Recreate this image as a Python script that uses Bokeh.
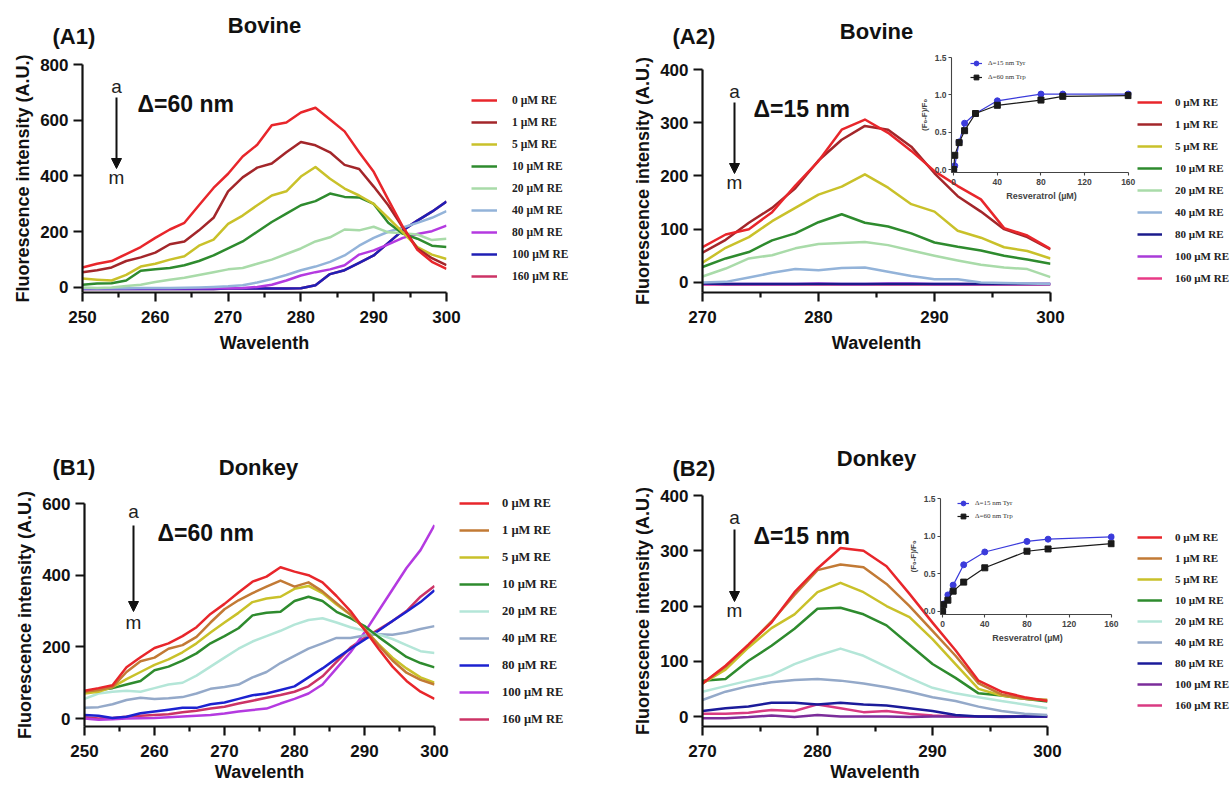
from bokeh.plotting import figure
from bokeh.models import (Range1d, FixedTicker, Label, Arrow, NormalHead, Legend,
                          LegendItem, PrintfTickFormatter)
from bokeh.embed import file_html
from bokeh.resources import INLINE

SANS = "Liberation Sans"
SERIF = "Liberation Serif"

# ---------------- data ----------------
CONC_LABELS = ["0 µM RE", "1 µM RE", "5 µM RE", "10 µM RE", "20 µM RE",
               "40 µM RE", "80 µM RE", "100 µM RE", "160 µM RE"]

WL_60 = [250, 252, 254, 256, 258, 260, 262, 264, 266, 268, 270, 272, 274,
         276, 278, 280, 282, 284, 286, 288, 290, 292, 294, 296, 298, 300]
WL_15 = [270, 272, 274, 276, 278, 280, 282, 284, 286, 288, 290, 292, 294,
         296, 298, 300]

# (A1) Bovine, delta = 60 nm
A1_0 = [72, 85, 95, 120, 145, 178, 208, 232, 295, 357, 408, 470, 512, 582, 592, 628, 645, 603, 560, 485, 415, 315, 218, 135, 92, 67]
A1_1 = [55, 62, 72, 95, 108, 125, 155, 165, 205, 250, 345, 395, 430, 445, 485, 522, 510, 485, 440, 425, 362, 295, 215, 140, 105, 80]
A1_5 = [32, 28, 25, 45, 75, 85, 100, 112, 150, 172, 228, 258, 295, 330, 345, 398, 432, 390, 355, 330, 300, 250, 198, 145, 118, 102]
A1_10 = [10, 14, 15, 25, 60, 65, 70, 80, 95, 115, 140, 165, 200, 235, 265, 295, 310, 337, 325, 323, 300, 232, 193, 175, 150, 145]
A1_20 = [0, -2, 0, 5, 10, 20, 28, 35, 45, 55, 65, 70, 85, 100, 120, 140, 165, 180, 208, 205, 218, 198, 195, 190, 170, 175]
A1_40 = [-3, -3, -3, -3, -2, -2, -2, -1, 0, 2, 4, 8, 18, 30, 45, 62, 75, 92, 115, 150, 178, 200, 215, 232, 250, 274]
A1_80 = [-3, -3, -3, -3, -3, -3, -3, -3, -3, -3, -3, -2, 2, 10, 25, 43, 55, 65, 80, 118, 133, 155, 178, 192, 202, 222]
A1_100 = [-5, -5, -5, -5, -5, -5, -5, -5, -5, -5, -4, -4, -4, -4, -4, -3, 8, 48, 62, 88, 115, 160, 205, 240, 272, 308]
A1_160 = [-5, -5, -5, -5, -5, -5, -5, -5, -5, -5, -4, -4, -4, -4, -4, -3, 8, 48, 62, 88, 115, 160, 205, 240, 272, 308]

# (A2) Bovine, delta = 15 nm
A2_0 = [66, 90, 100, 132, 182, 228, 287, 306, 281, 247, 209, 181, 156, 102, 88, 63]
A2_1 = [56, 80, 112, 140, 177, 229, 268, 294, 287, 255, 205, 162, 133, 100, 85, 62]
A2_5 = [37, 65, 85, 115, 140, 165, 180, 203, 178, 147, 133, 97, 84, 66, 59, 45]
A2_10 = [29, 45, 57, 79, 92, 113, 128, 112, 105, 92, 75, 67, 60, 50, 43, 35]
A2_20 = [11, 26, 45, 51, 64, 72, 74, 76, 70, 60, 50, 41, 33, 28, 25, 10]
A2_40 = [0, 1, 9, 18, 25, 23, 27, 28, 20, 12, 6, 6, 0, -1, -2, -3]
A2_80 = [-2, -3, -3, -3, -3, -3, -3, -3, -3, -3, -3, -3, -3, -3, -3, -3]
A2_100 = [-3, -3, -3, -3, -3, -2, -3, -3, -2, -2, -3, -3, -3, -3, -3, -3]
A2_160 = [-4, -4, -4, -4, -4, -4, -4, -4, -4, -4, -4, -4, -4, -4, -4, -4]

# (B1) Donkey, delta = 60 nm
B1_0 = [78, 85, 93, 143, 171, 197, 210, 230, 255, 292, 320, 352, 382, 396, 422, 410, 400, 380, 342, 300, 248, 195, 145, 105, 75, 55]
B1_1 = [75, 80, 88, 130, 160, 170, 195, 205, 228, 268, 305, 330, 350, 368, 385, 368, 380, 355, 322, 290, 250, 205, 162, 128, 108, 95]
B1_5 = [70, 75, 88, 110, 130, 150, 165, 185, 210, 240, 268, 295, 325, 335, 340, 362, 370, 350, 318, 290, 250, 208, 170, 140, 115, 100]
B1_10 = [75, 80, 85, 95, 105, 135, 145, 162, 182, 210, 230, 252, 288, 295, 298, 328, 340, 328, 298, 280, 258, 228, 200, 172, 155, 143]
B1_20 = [55, 70, 75, 78, 75, 85, 95, 100, 120, 145, 170, 195, 215, 230, 245, 262, 275, 280, 268, 255, 245, 235, 222, 205, 188, 183]
B1_40 = [30, 32, 40, 52, 58, 55, 57, 60, 70, 83, 88, 95, 115, 130, 155, 175, 195, 210, 225, 225, 232, 235, 234, 240, 250, 258]
B1_80 = [10, 8, 2, 5, 15, 20, 25, 30, 30, 40, 45, 55, 65, 70, 80, 90, 115, 140, 168, 195, 220, 245, 272, 298, 325, 358]
B1_100 = [0, -3, -2, 0, 1, 2, 4, 6, 8, 10, 14, 20, 24, 28, 42, 55, 70, 95, 140, 185, 240, 300, 360, 420, 470, 540]
B1_160 = [4, 0, 2, 5, 8, 10, 12, 18, 22, 28, 33, 42, 50, 58, 66, 75, 90, 118, 158, 198, 225, 248, 272, 300, 340, 370]

# (B2) Donkey, delta = 15 nm
B2_0 = [60, 92, 130, 170, 225, 268, 305, 300, 272, 222, 170, 120, 65, 45, 35, 28]
B2_1 = [60, 90, 130, 172, 220, 265, 275, 270, 240, 200, 155, 110, 60, 40, 32, 30]
B2_5 = [60, 85, 125, 160, 185, 225, 242, 225, 200, 180, 140, 95, 50, 38, 32, 30]
B2_10 = [65, 68, 101, 128, 159, 195, 197, 185, 165, 130, 95, 70, 42, 38, 32, 27]
B2_20 = [45, 55, 65, 75, 95, 110, 123, 110, 90, 70, 52, 42, 35, 28, 22, 15]
B2_40 = [30, 45, 55, 62, 66, 68, 65, 60, 53, 45, 35, 28, 18, 10, 5, 3]
B2_80 = [10, 15, 18, 25, 25, 22, 25, 22, 20, 15, 10, 3, 0, 0, 0, 0]
B2_100 = [-3, -3, -1, 2, -1, 3, 0, 0, 0, -1, 0, 0, 0, -1, 0, 0]
B2_160 = [5, 5, 7, 12, 10, 22, 15, 8, 10, 5, 2, 0, 0, 0, 0, 0]

# insets: quenching (F0-F)/F0 versus resveratrol concentration
RES_CONC = [0, 1, 5, 10, 20, 40, 80, 100, 160]
BOV_TYR = [0.0, 0.05, 0.37, 0.62, 0.75, 0.92, 1.01, 1.01, 1.01]
BOV_TRP = [0.0, 0.19, 0.36, 0.52, 0.75, 0.86, 0.93, 0.98, 0.99]
DON_TYR = [0.0, 0.10, 0.22, 0.35, 0.62, 0.79, 0.93, 0.96, 0.99]
DON_TRP = [0.0, 0.09, 0.15, 0.27, 0.39, 0.58, 0.80, 0.83, 0.90]

# ---------------- styles ----------------
COL_A1 = ["#e8262b", "#a3262a", "#c9c12a", "#2e8b2e", "#a9dba9", "#93b3d9", "#b43ae0", "#1f1fb5", "#cc3366"]
COL_A2 = ["#e8262b", "#a3262a", "#c9c12a", "#2e8b2e", "#a9dba9", "#93b3d9", "#1b1b8c", "#a93bd8", "#e83a86"]
COL_B1 = ["#e8262b", "#c27a35", "#c9c12a", "#2e8b2e", "#b4e6d8", "#94a9c9", "#1c22d0", "#b43ae0", "#cc3366"]
COL_B2 = ["#e8262b", "#c27a35", "#c9c12a", "#2e8b2e", "#b4e6d8", "#94a9c9", "#1b1b9a", "#7b2d9a", "#d93a82"]

PAGE_W, PAGE_H = 1228, 786
# geometry in page pixels: figure left/top, frame left/top/width/height, figure w/h
GEO_A1 = dict(pl=0, pt=0, fl=82, ft=64, fw=364, fh=228, w=612, h=360)
GEO_A2 = dict(pl=612, pt=0, fl=702, ft=69, fw=348, fh=223, w=616, h=360)
GEO_B1 = dict(pl=0, pt=440, fl=84, ft=503, fw=350, fh=223, w=612, h=348)
GEO_B2 = dict(pl=612, pt=440, fl=702, ft=495, fw=345, fh=231, w=616, h=348)
GEO_IA = dict(pl=915, pt=49, fl=951, ft=57, fw=180, fh=115, w=226, h=157)
GEO_IB = dict(pl=905, pt=490, fl=940, ft=498, fw=174, fh=116, w=219, h=158)


def base_fig(g, xr, yr, transparent=False):
    lb = g["fl"] - g["pl"]
    tb = g["ft"] - g["pt"]
    rb = g["w"] - lb - g["fw"]
    bb = g["h"] - tb - g["fh"]
    p = figure(frame_width=g["fw"], frame_height=g["fh"],
               min_border_left=lb, min_border_top=tb,
               min_border_right=rb, min_border_bottom=bb,
               x_range=Range1d(*xr), y_range=Range1d(*yr),
               output_backend="svg", toolbar_location=None, title=None)
    p.xgrid.visible = False
    p.ygrid.visible = False
    p.outline_line_color = None
    if transparent:
        p.background_fill_alpha = 0
        p.border_fill_alpha = 0
    p.styles = {"position": "absolute", "left": f"{g['pl']}px", "top": f"{g['pt']}px"}
    return p


def style_axis(ax, size, lw, tick, minor, color, lab_size, lab_stand, ax_stand):
    ax.axis_line_width = lw
    ax.axis_line_color = color
    ax.major_tick_line_width = lw
    ax.major_tick_line_color = color
    ax.major_tick_out = tick
    ax.major_tick_in = 0
    ax.minor_tick_line_width = lw
    ax.minor_tick_line_color = color
    ax.minor_tick_out = minor
    ax.minor_tick_in = 0
    ax.major_label_text_font = SANS
    ax.major_label_text_font_style = "bold"
    ax.major_label_text_font_size = size
    ax.major_label_text_color = color
    ax.major_label_standoff = lab_stand
    ax.axis_label_text_font = SANS
    ax.axis_label_text_font_style = "bold"
    ax.axis_label_text_font_size = lab_size
    ax.axis_label_text_color = color
    ax.axis_label_standoff = ax_stand


def main_panel(g, xr, yr, xticks, xminor, yticks, wl, series, colors, leg, x_lab_stand):
    p = base_fig(g, xr, yr)
    rends = [None] * len(series)
    # highest concentration drawn first so that the 0 µM trace sits on top
    for i in reversed(range(len(series))):
        rends[i] = p.line(wl, series[i], line_color=colors[i], line_width=2.5,
                          line_join="round")
    p.xaxis.ticker = FixedTicker(ticks=xticks, minor_ticks=xminor)
    p.yaxis.ticker = FixedTicker(ticks=yticks, minor_ticks=[])
    p.xaxis.axis_label = "Wavelenth"
    p.yaxis.axis_label = "Fluorescence intensity (A.U.)"
    style_axis(p.xaxis[0], "17px", 2.2, 9, 5, "#111111", "18px", 9, x_lab_stand)
    style_axis(p.yaxis[0], "17px", 2.2, 9, 5, "#111111", "18px", 5, 4)
    items = [LegendItem(label=lab, renderers=[r]) for lab, r in zip(CONC_LABELS, rends)]
    legend = Legend(items=items, location=leg["loc"], orientation="vertical",
                    glyph_width=leg["gw"], glyph_height=20, label_height=20,
                    spacing=leg["sp"], padding=0, margin=0, label_standoff=leg["st"],
                    border_line_color=None, background_fill_alpha=0,
                    label_text_font=SERIF, label_text_font_style="bold",
                    label_text_font_size=leg["fs"], label_text_color="#222222")
    p.add_layout(legend, "right")
    return p


def inset_panel(g, tyr, trp, leg):
    xr, yr = (-2, 163), (-0.04, 1.5)
    p = base_fig(g, xr, yr, transparent=True)
    blue, black = "#3b3bdb", "#1a1a1a"
    l1 = p.line(RES_CONC, tyr, line_color=blue, line_width=1.2)
    s1 = p.scatter(RES_CONC, tyr, marker="circle", size=6, color=blue)
    l2 = p.line(RES_CONC, trp, line_color=black, line_width=1.2)
    s2 = p.scatter(RES_CONC, trp, marker="square", size=6, color=black)
    p.xaxis.ticker = FixedTicker(ticks=[0, 40, 80, 120, 160], minor_ticks=[])
    p.yaxis.ticker = FixedTicker(ticks=[0, 0.5, 1.0, 1.5], minor_ticks=[])
    p.yaxis.formatter = PrintfTickFormatter(format="%.1f")
    p.xaxis.bounds = (-2, 160)
    p.xaxis.axis_label = "Resveratrol (µM)"
    p.yaxis.axis_label = "(F₀-F)/F₀"
    style_axis(p.xaxis[0], "8.5px", 1.1, 3, 0, "#444444", "9px", 3, 3)
    style_axis(p.yaxis[0], "8.5px", 1.1, 3, 0, "#444444", "8px", 2, 3)
    items = [LegendItem(label="Δ=15 nm Tyr", renderers=[l1, s1]),
             LegendItem(label="Δ=60 nm Trp", renderers=[l2, s2])]
    legend = Legend(items=items, location=leg["loc"], orientation="vertical",
                    glyph_width=12, glyph_height=12, label_height=12, spacing=leg["sp"],
                    padding=0, margin=0, label_standoff=6, border_line_color=None,
                    background_fill_alpha=0, label_text_font=SERIF,
                    label_text_font_size="7px", label_text_color="#333333")
    p.add_layout(legend)
    return p


XT60 = [250, 260, 270, 280, 290, 300]
XM60 = [255, 265, 275, 285, 295]
XT15 = [270, 280, 290, 300]
XM15 = [275, 285, 295]

pA1 = main_panel(GEO_A1, (250, 300), (-18, 800), XT60, XM60, [0, 200, 400, 600, 800], WL_60,
                 [A1_0, A1_1, A1_5, A1_10, A1_20, A1_40, A1_80, A1_100, A1_160], COL_A1,
                 dict(loc=(25, 6), gw=26, sp=2, st=15, fs="11.5px"), 7)
pA2 = main_panel(GEO_A2, (270, 300), (-19, 400), XT15, XM15, [0, 100, 200, 300, 400], WL_15,
                 [A2_0, A2_1, A2_5, A2_10, A2_20, A2_40, A2_80, A2_100, A2_160], COL_A2,
                 dict(loc=(87, 4), gw=25, sp=2, st=13, fs="11px"), 7)
pB1 = main_panel(GEO_B1, (250, 300), (-22, 600), XT60, XM60, [0, 200, 400, 600], WL_60,
                 [B1_0, B1_1, B1_5, B1_10, B1_20, B1_40, B1_80, B1_100, B1_160], COL_B1,
                 dict(loc=(25, -3), gw=30, sp=7, st=13, fs="12.5px"), 2)
pB2 = main_panel(GEO_B2, (270, 300), (-18, 400), XT15, XM15, [0, 100, 200, 300, 400], WL_15,
                 [B2_0, B2_1, B2_5, B2_10, B2_20, B2_40, B2_80, B2_100, B2_160], COL_B2,
                 dict(loc=(90, 11), gw=25, sp=1, st=13, fs="11px"), 2)

pIA = inset_panel(GEO_IA, BOV_TYR, BOV_TRP, dict(loc=(19, 89), sp=2))
pIB = inset_panel(GEO_IB, DON_TYR, DON_TRP, dict(loc=(17, 92), sp=1))

# ---------------- text overlay (page-pixel coordinates) ----------------
ov = figure(frame_width=PAGE_W, frame_height=PAGE_H, min_border=0,
            x_range=Range1d(0, PAGE_W), y_range=Range1d(PAGE_H, 0),
            x_axis_type=None, y_axis_type=None, output_backend="svg",
            toolbar_location=None, title=None)
ov.xgrid.visible = False
ov.ygrid.visible = False
ov.outline_line_color = None
ov.background_fill_alpha = 0
ov.border_fill_alpha = 0
ov.styles = {"position": "absolute", "left": "0px", "top": "0px"}

PANEL_TEXT = [
    # tag, tag pos, title, title pos, delta text, delta pos, arrow x, a y, m y, arrow start/end y
    ("(A1)", (52, 36), "Bovine", (264, 25), "Δ=60 nm", (137, 103), 116, 86, 177, (97, 168)),
    ("(A2)", (672, 36), "Bovine", (876, 31), "Δ=15 nm", (753, 108), 734, 91, 182, (102, 173)),
    ("(B1)", (52, 467), "Donkey", (258, 467), "Δ=60 nm", (157, 532), 133, 511, 622, (525, 611)),
    ("(B2)", (672, 468), "Donkey", (876, 458), "Δ=15 nm", (753, 535), 734, 517, 610, (529, 601)),
]
for tag, tpos, title, ttl, delta, dpos, axx, ay, my, arr in PANEL_TEXT:
    ov.add_layout(Label(x=tpos[0], y=tpos[1], text=tag, text_font=SANS,
                        text_font_style="bold", text_font_size="22px", text_align="left",
                        text_baseline="middle", text_color="#111111"))
    ov.add_layout(Label(x=ttl[0], y=ttl[1], text=title, text_font=SANS,
                        text_font_style="bold", text_font_size="22px", text_align="center",
                        text_baseline="middle", text_color="#111111"))
    ov.add_layout(Label(x=dpos[0], y=dpos[1], text=delta, text_font=SANS,
                        text_font_style="bold", text_font_size="23px", text_align="left",
                        text_baseline="middle", text_color="#111111"))
    ov.add_layout(Label(x=axx, y=ay, text="a", text_font=SANS, text_font_size="19px",
                        text_align="center", text_baseline="middle", text_color="#222222"))
    ov.add_layout(Label(x=axx, y=my, text="m", text_font=SANS, text_font_size="19px",
                        text_align="center", text_baseline="middle", text_color="#222222"))
    ov.add_layout(Arrow(x_start=axx, y_start=arr[0], x_end=axx, y_end=arr[1],
                        line_width=2, line_color="#111111",
                        end=NormalHead(size=10, fill_color="#111111", line_color="#111111")))

p = [pA1, pA2, pB1, pB2, pIA, pIB, ov]
open("out.html", "w").write(file_html(p, INLINE))
